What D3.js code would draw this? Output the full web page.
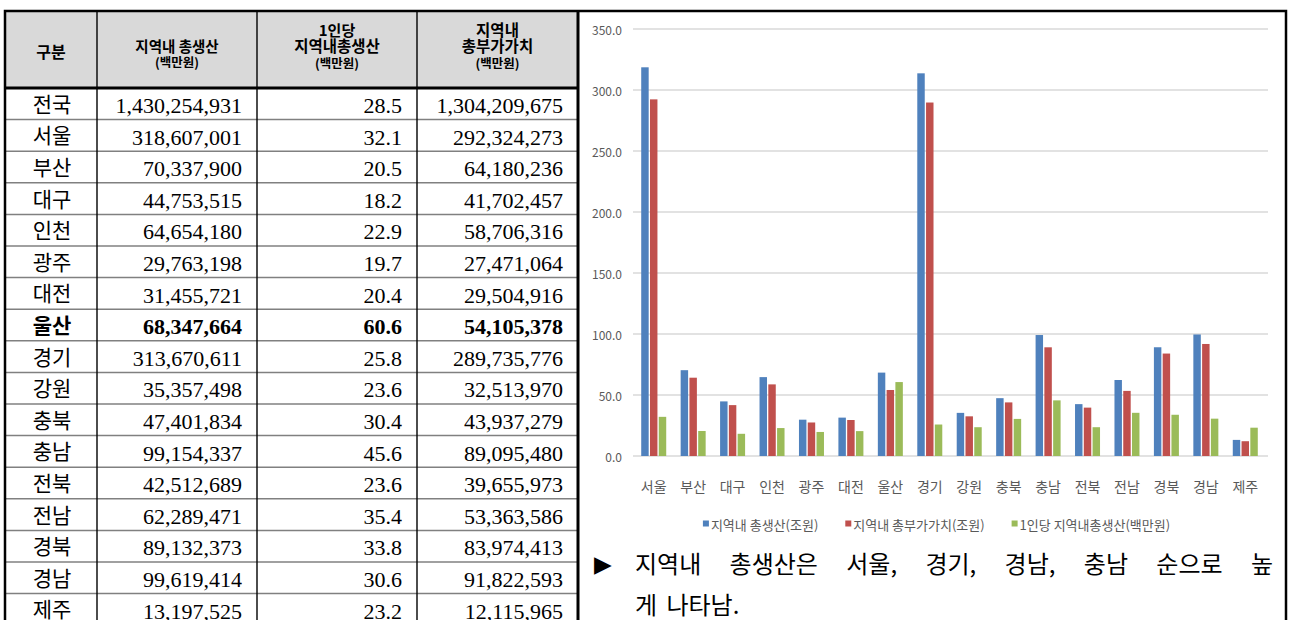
<!DOCTYPE html>
<html>
<head>
<meta charset="utf-8">
<script src="https://cdn.jsdelivr.net/npm/d3@7"></script>
<style>
  body { margin: 0; background: #fff; }
  svg { display: block; }
</style>
</head>
<body>
<svg id="chart" width="1290" height="620"></svg>
<script>
// ---- data ----
const regions = ["전국","서울","부산","대구","인천","광주","대전","울산","경기","강원","충북","충남","전북","전남","경북","경남","제주"];
// 지역내 총생산 (백만원)
const grdp = [1430254931,318607001,70337900,44753515,64654180,29763198,31455721,68347664,313670611,35357498,47401834,99154337,42512689,62289471,89132373,99619414,13197525];
// 1인당 지역내총생산 (백만원)
const perCapita = [28.5,32.1,20.5,18.2,22.9,19.7,20.4,60.6,25.8,23.6,30.4,45.6,23.6,35.4,33.8,30.6,23.2];
// 지역내 총부가가치 (백만원)
const grva = [1304209675,292324273,64180236,41702457,58706316,27471064,29504916,54105378,289735776,32513970,43937279,89095480,39655973,53363586,83974413,91822593,12115965];

const highlightRegion = "울산";
const yTicks = [0,50,100,150,200,250,300,350];
const seriesNames = ["지역내 총생산(조원)","지역내 총부가가치(조원)","1인당 지역내총생산(백만원)"];
const seriesColors = ["#4F81BD","#C0504D","#9BBB59"];
const summaryWords = ["지역내","총생산은","서울,","경기,","경남,","충남","순으로","높"];
const summaryLine2 = "게 나타남.";

const svg = d3.select("#chart");
const KR = "'Noto Sans CJK KR', 'Noto Sans', sans-serif";
const NUM = "'Liberation Serif', 'DejaVu Serif', serif";

// ---- table ----
const colX = [5, 97, 257, 417, 578];
const headTop = 11, headBottom = 88, rowH = 31.6;

svg.append("rect").attr("x", colX[0]).attr("y", headTop)
  .attr("width", colX[4] - colX[0]).attr("height", headBottom - headTop)
  .attr("fill", "#d9d9d9");

// header labels
const headers = [
  { col: 0, lines: [{ t: "구분", y: 51, s: 16 }] },
  { col: 1, lines: [{ t: "지역내 총생산", y: 45, s: 14.5 }, { t: "(백만원)", y: 61, s: 12.5 }] },
  { col: 2, lines: [{ t: "1인당", y: 29, s: 15 }, { t: "지역내총생산", y: 45, s: 15.5 }, { t: "(백만원)", y: 62, s: 12.5 }] },
  { col: 3, lines: [{ t: "지역내", y: 29, s: 15.5 }, { t: "총부가가치", y: 45, s: 15.5 }, { t: "(백만원)", y: 62, s: 12.5 }] }
];
headers.forEach(h => {
  const cx = (colX[h.col] + colX[h.col + 1]) / 2;
  h.lines.forEach(l => {
    svg.append("text").attr("x", cx).attr("y", l.y)
      .attr("text-anchor", "middle").attr("dominant-baseline", "central")
      .attr("font-family", KR).attr("font-weight", 700).attr("font-size", l.s)
      .attr("fill", "#000").text(l.t);
  });
});

const fmt = d3.format(",");
const fmt1 = d3.format(".1f");
regions.forEach((r, i) => {
  const top = headBottom + i * rowH;
  const bold = r === highlightRegion ? 700 : 400;
  svg.append("text").attr("x", (colX[0] + colX[1]) / 2 + 1).attr("y", top + rowH / 2 - 1)
    .attr("text-anchor", "middle").attr("dominant-baseline", "central")
    .attr("font-family", KR).attr("font-size", 21).attr("font-weight", bold)
    .attr("fill", "#000").text(r);
  const vals = [fmt(grdp[i]), fmt1(perCapita[i]), fmt(grva[i])];
  vals.forEach((v, k) => {
    svg.append("text").attr("x", colX[k + 2] - 15).attr("y", top + 25)
      .attr("text-anchor", "end").attr("font-family", NUM)
      .attr("font-size", 22).attr("font-weight", bold)
      .attr("fill", "#000").text(v);
  });
  if (i > 0) {
    svg.append("line").attr("x1", colX[0]).attr("x2", colX[4])
      .attr("y1", top).attr("y2", top)
      .attr("stroke", "#808080").attr("stroke-width", 1.5);
  }
});

// column rules
[colX[1], colX[2], colX[3]].forEach(x => {
  svg.append("line").attr("x1", x).attr("x2", x).attr("y1", headTop).attr("y2", 620)
    .attr("stroke", "#000").attr("stroke-width", 1.4);
});
svg.append("line").attr("x1", colX[0]).attr("x2", colX[4])
  .attr("y1", headBottom).attr("y2", headBottom)
  .attr("stroke", "#000").attr("stroke-width", 3);
svg.append("line").attr("x1", colX[4]).attr("x2", colX[4])
  .attr("y1", headTop).attr("y2", 620)
  .attr("stroke", "#000").attr("stroke-width", 3);

// outer frame
svg.append("rect").attr("x", 5).attr("y", headTop).attr("width", 1281).attr("height", 640)
  .attr("fill", "none").attr("stroke", "#000").attr("stroke-width", 2.5);

// ---- chart ----
const chartRegions = regions.slice(1);
const chartData = chartRegions.map((r, j) => {
  const i = j + 1;
  return { region: r, values: [grdp[i] / 1e6, grva[i] / 1e6, perCapita[i]] };
});

const x0 = d3.scaleBand().domain(chartRegions).range([634, 1265]).padding(0);
const x1 = d3.scaleBand().domain([0, 1, 2]).range([-12.5, 12.5]).paddingInner(0.15);
const y = d3.scaleLinear().domain([0, 350]).range([456, 29]);

const grid = svg.append("g");
yTicks.forEach(t => {
  grid.append("line").attr("x1", 633).attr("x2", 1268)
    .attr("y1", y(t)).attr("y2", y(t))
    .attr("stroke", "#d9d9d9").attr("stroke-width", 1.5);
  grid.append("text").attr("x", 622).attr("y", y(t))
    .attr("text-anchor", "end").attr("dominant-baseline", "central")
    .attr("font-family", KR).attr("font-size", 12).attr("fill", "#595959")
    .text(fmt1(t));
});

const groups = svg.append("g").selectAll("g").data(chartData).join("g")
  .attr("transform", d => `translate(${x0(d.region) + x0.bandwidth() / 2},0)`);
groups.selectAll("rect").data(d => d.values).join("rect")
  .attr("x", (v, k) => x1(k))
  .attr("width", x1.bandwidth())
  .attr("y", v => y(v))
  .attr("height", v => y(0) - y(v))
  .attr("fill", (v, k) => seriesColors[k]);

// category labels
chartRegions.forEach(r => {
  svg.append("text").attr("x", x0(r) + x0.bandwidth() / 2).attr("y", 486)
    .attr("text-anchor", "middle").attr("dominant-baseline", "central")
    .attr("font-family", KR).attr("font-size", 14).attr("fill", "#595959").text(r);
});

// legend
const legend = svg.append("g");
let lx = 0;
seriesNames.forEach((name, k) => {
  const g = legend.append("g");
  g.append("rect").attr("x", 0).attr("y", -3.5).attr("width", 6).attr("height", 6)
    .attr("fill", seriesColors[k]);
  const t = g.append("text").attr("x", 8).attr("y", 0).attr("dominant-baseline", "central")
    .attr("font-family", KR).attr("font-size", 13).attr("fill", "#595959").text(name);
  const w = 8 + t.node().getComputedTextLength();
  g.attr("transform", `translate(${lx},0)`);
  lx += w + 27;
});
const legendW = lx - 27;
legend.attr("transform", `translate(${936.5 - legendW / 2},524)`);

// ---- summary text ----
svg.append("text").attr("x", 594).attr("y", 572)
  .attr("font-family", "'DejaVu Sans', sans-serif").attr("font-size", 23)
  .attr("fill", "#000").text("▶");

const lineLeft = 635, lineRight = 1273;
const wordNodes = summaryWords.map(w =>
  svg.append("text").attr("y", 573).attr("font-family", KR).attr("font-size", 24)
    .attr("fill", "#000").text(w));
const widths = wordNodes.map(n => n.node().getComputedTextLength());
const gap = (lineRight - lineLeft - d3.sum(widths)) / (summaryWords.length - 1);
let wx = lineLeft;
wordNodes.forEach((n, k) => { n.attr("x", wx); wx += widths[k] + gap; });

svg.append("text").attr("x", lineLeft).attr("y", 614)
  .attr("font-family", KR).attr("font-size", 24).attr("fill", "#000")
  .attr("xml:space", "preserve").attr("word-spacing", 4).text(summaryLine2);
</script>
</body>
</html>
